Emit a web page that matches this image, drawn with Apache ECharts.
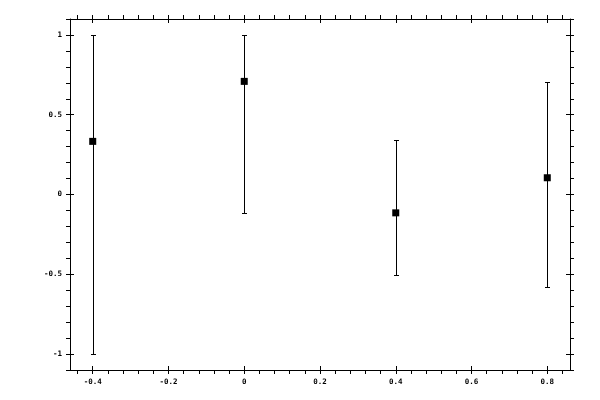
<!doctype html>
<html>
<head>
<meta charset="utf-8">
<title></title>
<script src="https://cdn.jsdelivr.net/npm/echarts@6/dist/echarts.min.js"></script>
<style>
  html, body { margin: 0; padding: 0; background: #fff; }
  #chart { width: 600px; height: 400px; }
</style>
</head>
<body>
<div id="chart"></div>
<script>
// data
var xs = [-0.4, 0, 0.4, 0.8];
var ys = [0.333, 0.709, -0.115, 0.105];
var lows = [-1, -0.115, -0.505, -0.579];
var highs = [1, 1, 0.342, 0.702];

// axis ticks
var xMajor = [-0.4, -0.2, 0, 0.2, 0.4, 0.6, 0.8];
var yMajor = [-1, -0.5, 0, 0.5, 1];
var xRange = [-0.46, 0.86];
var yRange = [-1.1, 1.1];

function steps(from, to, step) {
  var out = [];
  for (var v = from; v <= to + 1e-9; v += step) out.push(Math.round(v * 1000) / 1000);
  return out;
}
var xAll = steps(-0.44, 0.84, 0.04);
var yAll = steps(-1.1, 1.1, 0.1);

var font = { fontFamily: 'DejaVu Sans Mono', fontSize: 7.5, fontWeight: 'bold', color: '#000' };

function fmt(v) { return String(Math.round(v * 100) / 100); }

function outerAxis(pos, grid, labels, all, range) {
  return {
    type: 'value', gridIndex: grid, position: pos,
    min: range[0], max: range[1],
    axisLine: { show: true, onZero: false, lineStyle: { color: '#000', width: 1 } },
    axisTick: { show: true, inside: false, length: 4, customValues: all,
      lineStyle: { color: '#000', width: 1 } },
    axisLabel: labels ? Object.assign({ show: true, margin: 8, customValues: labels, formatter: fmt }, font)
                      : { show: false },
    splitLine: { show: false }
  };
}
function innerAxis(pos, grid, major, range) {
  return {
    type: 'value', gridIndex: grid, position: pos,
    min: range[0], max: range[1],
    axisLine: { show: false, onZero: false },
    axisTick: { show: true, inside: true, length: 4, customValues: major,
      lineStyle: { color: '#000', width: 1 } },
    axisLabel: { show: false },
    splitLine: { show: false }
  };
}

var box = { left: 70, right: 30, top: 19, bottom: 30 };

var chart = echarts.init(document.getElementById('chart'));
chart.setOption({
  animation: false,
  backgroundColor: '#fff',
  grid: [Object.assign({}, box), Object.assign({}, box)],
  xAxis: [
    outerAxis('bottom', 0, xMajor, xAll, xRange),
    outerAxis('top', 0, null, xAll, xRange),
    innerAxis('bottom', 1, xMajor, xRange),
    innerAxis('top', 1, xMajor, xRange)
  ],
  yAxis: [
    outerAxis('left', 0, yMajor, yAll, yRange),
    outerAxis('right', 0, null, yAll, yRange),
    innerAxis('left', 1, yMajor, yRange),
    innerAxis('right', 1, yMajor, yRange)
  ],
  series: [
    {
      type: 'custom',
      xAxisIndex: 0, yAxisIndex: 0,
      data: xs.map(function (x, i) { return [x, lows[i], highs[i]]; }),
      renderItem: function (params, api) {
        var lo = api.coord([api.value(0), api.value(1)]);
        var hi = api.coord([api.value(0), api.value(2)]);
        var x = Math.round(lo[0]) + 0.5;
        var y1 = Math.round(lo[1]) + 0.5, y2 = Math.round(hi[1]) + 0.5;
        var st = { stroke: '#000', lineWidth: 1 };
        return {
          type: 'group',
          children: [
            { type: 'line', shape: { x1: x, y1: y1, x2: x, y2: y2 }, style: st },
            { type: 'line', shape: { x1: x - 2.5, y1: y1, x2: x + 2.5, y2: y1 }, style: st },
            { type: 'line', shape: { x1: x - 2.5, y1: y2, x2: x + 2.5, y2: y2 }, style: st }
          ]
        };
      },
      z: 2
    },
    {
      type: 'scatter',
      xAxisIndex: 0, yAxisIndex: 0,
      symbol: 'rect', symbolSize: 7,
      itemStyle: { color: '#000', opacity: 1 },
      data: xs.map(function (x, i) { return [x, ys[i]]; }),
      z: 3
    }
  ]
});
</script>
</body>
</html>
